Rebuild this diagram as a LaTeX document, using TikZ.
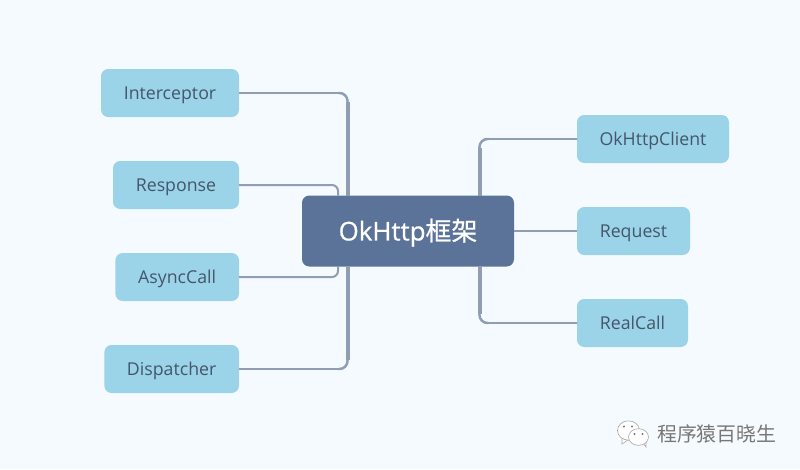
\documentclass[tikz,border=0pt]{standalone}
\usepackage{xcolor}
\usepackage{fontspec}
\setmainfont{Open Sans}
\newfontfamily\cjkfont{Noto Sans CJK SC}
\newfontfamily\hubfont[FakeBold=0.7]{Open Sans}
\newfontfamily\hubcjkfont[FakeBold=0.7]{Noto Sans CJK SC}
\usepackage{tikz}
\usetikzlibrary{positioning, shapes.geometric}

\definecolor{pagebg}{HTML}{F5FAFF}
\definecolor{hubfill}{HTML}{5B7299}
\definecolor{leaffill}{HTML}{9BD3E8}
\definecolor{linkcol}{HTML}{8F9EB3}
\definecolor{leaftext}{HTML}{44566A}
\definecolor{markcol}{HTML}{777777}

\begin{document}
\begin{tikzpicture}[
    x=0.75pt,
    y=-0.75pt,
    leaf/.style={
        rectangle,
        rounded corners=5.5pt,
        fill=leaffill,
        minimum height=36pt,
        inner sep=0pt,
        outer sep=0pt,
        text height=12pt,
        text depth=3pt,
        text=leaftext,
        font=\fontsize{13.3}{15}\selectfont
    },
    hub/.style={
        rectangle,
        rounded corners=5.5pt,
        fill=hubfill,
        minimum width=159pt,
        minimum height=53.25pt,
        inner sep=0pt,
        outer sep=0pt,
        text height=19pt,
        text depth=4.8pt,
        text=white,
        font=\hubfont\fontsize{19.4}{22}\selectfont
    },
    twig/.style={
        draw=linkcol,
        line width=1.3pt,
        rounded corners=6pt
    },
    elbow/.style={
        draw=linkcol,
        line width=1.8pt,
        rounded corners=6pt
    },
    spine/.style={
        draw=linkcol,
        line width=3pt
    },
    bubble/.style={
        ellipse,
        draw=markcol!60,
        fill=white,
        line width=0.5pt,
        inner sep=0pt
    },
    eye/.style={
        circle,
        fill=markcol,
        minimum size=1.6pt,
        inner sep=0pt
    }
]

\path[use as bounding box, fill=pagebg] (0,0) rectangle (800,469);

% Main node

\node[hub] (okhttp) at (408,231) {OkHttp{\hubcjkfont 框架}};

% Left side

\node[leaf, minimum width=103.5pt, anchor=east] (interceptor) at (239,93) {Interceptor};

\node[leaf, minimum width=94.5pt, below=33pt of interceptor.south east, anchor=north east] (response) {Response};

\node[leaf, minimum width=92.7pt, below=33pt of response.south east, anchor=north east] (asynccall) {AsyncCall};

\node[leaf, minimum width=101pt, below=33pt of asynccall.south east, anchor=north east] (dispatcher) {Dispatcher};

% Right side

\node[leaf, minimum width=114pt, anchor=west] (client) at (577,139) {OkHttpClient};

\node[leaf, minimum width=84.75pt, below=33pt of client.south west, anchor=north west] (request) {Request};

\node[leaf, minimum width=83.25pt, below=33pt of request.south west, anchor=north west] (realcall) {RealCall};

% Connectors

\coordinate (outerleft) at (347.5,230);
\coordinate (innerleft) at (338,230);
\coordinate (outerright) at (479.5,230);

\draw[twig] (interceptor.east) -| (okhttp.north -| outerleft);
\draw[elbow] ([xshift=-7pt]interceptor.east -| outerleft) -| ([yshift=-14pt]interceptor.east -| outerleft);
\draw[spine] (okhttp.north -| outerleft) -- ([yshift=-7pt]interceptor.east -| outerleft);

\draw[twig, rounded corners=4.5pt, line width=1.5pt] (response.east) -| (okhttp.north -| innerleft);
\draw[twig, rounded corners=4.5pt, line width=1.5pt] (asynccall.east) -| (okhttp.south -| innerleft);

\draw[twig] (dispatcher.east) -| (okhttp.south -| outerleft);
\draw[elbow] ([xshift=-7pt]dispatcher.east -| outerleft) -| ([yshift=14pt]dispatcher.east -| outerleft);
\draw[spine] (okhttp.south -| outerleft) -- ([yshift=7pt]dispatcher.east -| outerleft);

\draw[twig] (client.west) -| (okhttp.north -| outerright);
\draw[elbow] ([xshift=7pt]client.west -| outerright) -| ([yshift=-14pt]client.west -| outerright);
\draw[spine] (okhttp.north -| outerright) -- ([yshift=-7pt]client.west -| outerright);

\draw[twig] (okhttp.east) -- (request.west);

\draw[twig] (realcall.west) -| (okhttp.south -| outerright);
\draw[elbow] ([xshift=7pt]realcall.west -| outerright) -| ([yshift=14pt]realcall.west -| outerright);
\draw[spine] (okhttp.south -| outerright) -- ([yshift=7pt]realcall.west -| outerright);

% Watermark

\draw[draw=markcol!60, fill=white, line width=0.5pt] (622,438) -- (622,444) -- (628,440) -- cycle;
\node[bubble, minimum width=16.5pt, minimum height=14.5pt] (bubbleback) at (628.5,430.5) {};
\draw[draw=markcol!60, fill=white, line width=0.5pt] (643,443) -- (646,447) -- (646,441) -- cycle;
\node[bubble, minimum width=15pt, minimum height=12.5pt] (bubblefront) at (638.5,437) {};
\node[eye] at (624,426.5) {};
\node[eye] at (632,426.5) {};
\node[eye] at (634.5,434) {};
\node[eye] at (642.5,434) {};

\node[text=markcol, font=\cjkfont\fontsize{14.9}{16}\selectfont, anchor=west] (mark) at (652.5,433.5) {程序猿百晓生};

\end{tikzpicture}
\end{document}
